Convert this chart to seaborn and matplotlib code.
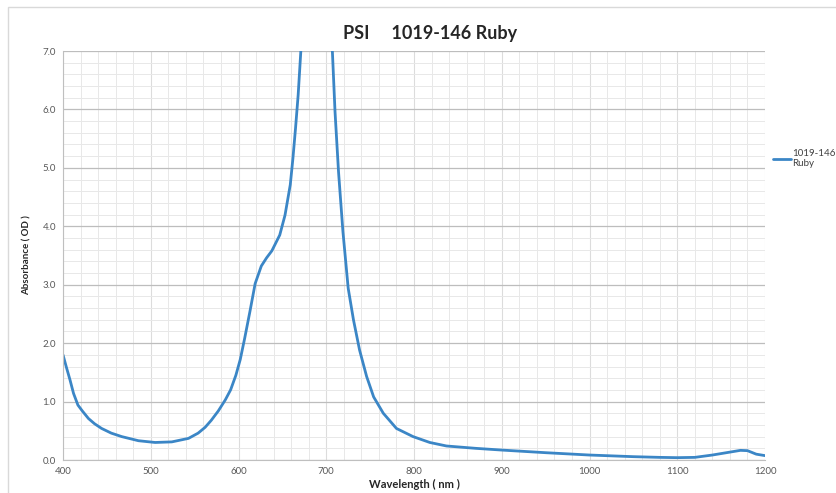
import numpy as np
import pandas as pd
import matplotlib
matplotlib.use("Agg")
import matplotlib.pyplot as plt
from matplotlib.patches import Rectangle
from matplotlib.ticker import MultipleLocator, FormatStrFormatter
import seaborn as sns

# Dados (comprimento de onda em nm, absorbância em OD)
comprimento_onda = [400, 404, 408, 412, 417, 422, 429, 436, 444, 455, 467, 486,
                    505, 524, 543, 554, 562, 569, 577, 585, 591, 597, 602, 607,
                    613, 619, 626, 632, 638, 647, 653, 659, 662, 665, 668, 671,
                    676, 685, 695, 702, 707, 710, 714, 719, 725, 731, 738, 746,
                    754, 765, 780, 799, 818, 837, 870, 900, 950, 1000, 1050, 1080,
                    1100, 1120, 1140, 1160, 1172, 1180, 1190, 1200]
absorbancia = [1.80, 1.58, 1.37, 1.14, 0.94, 0.84, 0.71, 0.62, 0.54, 0.46, 0.40, 0.33,
               0.30, 0.31, 0.37, 0.46, 0.56, 0.68, 0.84, 1.03, 1.20, 1.45, 1.72, 2.08,
               2.54, 3.02, 3.32, 3.46, 3.58, 3.85, 4.19, 4.71, 5.16, 5.68, 6.25, 6.99,
               8.00, 9.00, 9.00, 8.00, 6.99, 5.96, 4.93, 3.91, 2.94, 2.40, 1.88, 1.43,
               1.08, 0.80, 0.54, 0.40, 0.30, 0.24, 0.20, 0.17, 0.125, 0.085, 0.057, 0.045,
               0.04, 0.045, 0.085, 0.135, 0.165, 0.16, 0.10, 0.075]
serie = "1019-146\nRuby"
titulo = "PSI     1019-146 Ruby"

dados = pd.DataFrame({"wl": comprimento_onda, "od": absorbancia})

sns.set_style("white")
plt.rcParams["font.family"] = ["Lato", "DejaVu Sans"]

fig = plt.figure(figsize=(8.37, 4.93), dpi=100)
ax = fig.add_axes([63 / 837, 33 / 493, 702 / 837, 409 / 493])

# borda da área do gráfico (estilo Excel)
fig.patches.append(Rectangle((8 / 837, -0.05), 1.0, 1 - 7 / 493 + 0.05,
                             transform=fig.transFigure, fill=False,
                             edgecolor="#d9d9d9", linewidth=1.0))

sns.lineplot(data=dados, x="wl", y="od", ax=ax, color="#3b86c6",
             linewidth=2.0, label=serie)
for linha in ax.get_lines():
    linha.set_solid_joinstyle("round")

ax.set_xlim(400, 1200)
ax.set_ylim(0, 7)
ax.xaxis.set_major_locator(MultipleLocator(100))
ax.xaxis.set_minor_locator(MultipleLocator(20))
ax.yaxis.set_major_locator(MultipleLocator(1))
ax.yaxis.set_minor_locator(MultipleLocator(0.2))
ax.yaxis.set_major_formatter(FormatStrFormatter("%.1f"))

ax.grid(which="major", axis="y", color="#bdbdbd", linewidth=0.9)
ax.grid(which="major", axis="x", color="#dcdcdc", linewidth=0.8)
ax.grid(which="minor", color="#e8e8e8", linewidth=0.7)
ax.set_axisbelow(True)

for lado in ["top", "right"]:
    ax.spines[lado].set_visible(False)
ax.spines["left"].set_color("#bfbfbf")
ax.spines["bottom"].set_color("#bfbfbf")
ax.tick_params(axis="both", which="major", labelsize=7, colors="#bfbfbf",
               labelcolor="#595959", length=3, width=0.8, pad=2)
ax.tick_params(axis="both", which="minor", length=0)

ax.set_xlabel("Wavelength ( nm )", fontsize=8, fontweight="bold", labelpad=2)
ax.set_ylabel("Absorbance ( OD )", fontsize=7, fontweight="bold", labelpad=8)
ax.set_title(titulo, fontsize=13, fontweight="bold", pad=9, x=0.523)

leg = ax.legend(loc="upper left", bbox_to_anchor=(1.0, 0.78), frameon=False,
                fontsize=7, handlelength=1.9, handletextpad=0.1,
                borderaxespad=0.4)
for t in leg.get_texts():
    t.set_color("#404040")

fig.savefig("out.png", dpi=100)
